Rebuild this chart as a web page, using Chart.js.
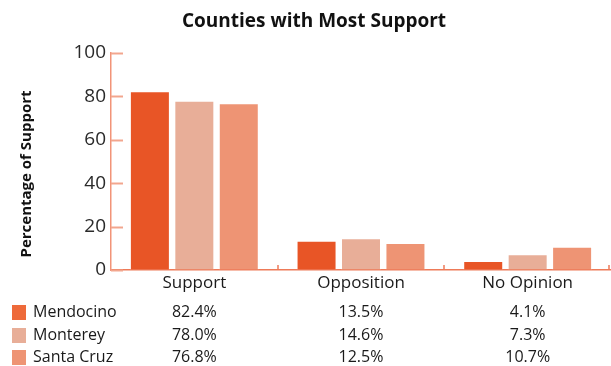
<!DOCTYPE html>
<html lang="en">
<head>
  <meta charset="UTF-8">
  <title>Counties with Most Support</title>
  <script src="https://cdn.jsdelivr.net/npm/chart.js"></script>
  <style>
    html, body { margin: 0; padding: 0; background: #fff; }
    #wrap { width: 611px; height: 366px; }
  </style>
</head>
<body>
  <div id="wrap"><canvas id="supportChart" width="611" height="366"></canvas></div>

  <script>
    // data
    const categories = ['Support', 'Opposition', 'No Opinion'];
    const counties = ['Mendocino', 'Monterey', 'Santa Cruz'];
    const mendocino = [82.4, 13.5, 4.1];
    const monterey = [78.0, 14.6, 7.3];
    const santaCruz = [76.8, 12.5, 10.7];
    const yTicks = [0, 20, 40, 60, 80, 100];

    const barColors = ['#E85526', '#E8AE98', '#EE9474'];
    const swatchColors = ['#EE6A3A', '#E8AE98', '#EE9474'];
    const FONT = '"Open Sans", sans-serif';

    // ticks drawn inside the plot + the data table under the axis
    const extras = {
      id: 'extras',
      afterDraw(chart) {
        const ctx = chart.ctx;
        const x = chart.scales.x, y = chart.scales.y;
        const area = chart.chartArea;
        ctx.save();

        // y tick marks pointing into the plot
        ctx.strokeStyle = '#F2A68E';
        ctx.lineWidth = 2;
        yTicks.forEach(v => {
          const py = Math.round(y.getPixelForValue(v)) + 0.5;
          ctx.beginPath();
          ctx.moveTo(area.left, py);
          ctx.lineTo(area.left + 12, py);
          ctx.stroke();
        });

        // small upward ticks between categories
        ctx.strokeStyle = '#EE7A58';
        ctx.lineWidth = 1.5;
        for (let i = 1; i <= categories.length; i++) {
          const px = Math.min(Math.round(x.getPixelForValue(i - 0.5)), area.right - 2);
          ctx.beginPath();
          ctx.moveTo(px, area.bottom);
          ctx.lineTo(px, area.bottom - 5);
          ctx.stroke();
        }

        // y axis title
        ctx.fillStyle = '#111';
        ctx.font = 'bold 15px ' + FONT;
        ctx.textAlign = 'center';
        ctx.textBaseline = 'middle';
        ctx.translate(27, 174);
        ctx.rotate(-Math.PI / 2);
        ctx.fillText('Percentage of Support', 0, 0);
        ctx.setTransform(1, 0, 0, 1, 0, 0);

        // table rows
        const rows = [mendocino, monterey, santaCruz];
        const rowY = [312, 335, 357];
        ctx.font = '16px ' + FONT;
        rows.forEach((vals, r) => {
          ctx.fillStyle = swatchColors[r];
          ctx.fillRect(12, rowY[r] - 7, 14, 15);
          ctx.fillStyle = '#1a1a1a';
          ctx.textAlign = 'left';
          ctx.fillText(counties[r], 33, rowY[r]);
          ctx.textAlign = 'center';
          vals.forEach((v, c) => {
            ctx.fillText(v.toFixed(1) + '%', x.getPixelForValue(c), rowY[r]);
          });
        });
        ctx.restore();
      }
    };

    new Chart(document.getElementById('supportChart'), {
      type: 'bar',
      data: {
        labels: categories,
        datasets: [
          { label: counties[0], data: mendocino, backgroundColor: barColors[0] },
          { label: counties[1], data: monterey, backgroundColor: barColors[1] },
          { label: counties[2], data: santaCruz, backgroundColor: barColors[2] }
        ].map(d => Object.assign(d, {
          borderColor: 'rgba(255,255,255,0.55)',
          borderWidth: 1,
          categoryPercentage: 0.8,
          barPercentage: 0.9
        }))
      },
      options: {
        responsive: false,
        animation: false,
        layout: { padding: { left: 17, right: 0, top: 0, bottom: 70 } },
        plugins: {
          legend: { display: false },
          tooltip: { enabled: false },
          title: {
            display: true,
            text: 'Counties with Most Support',
            color: '#111',
            font: { family: FONT, size: 19, weight: 'bold' },
            padding: { top: 10, bottom: 20.2 }
          }
        },
        scales: {
          x: {
            grid: { drawOnChartArea: false, drawTicks: false },
            border: { color: '#EE7A58', width: 1.5 },
            ticks: { color: '#1a1a1a', padding: 3, font: { family: FONT, size: 17 } },
            afterFit: s => { s.height = 26; }
          },
          y: {
            min: 0,
            max: 100,
            grid: { drawOnChartArea: false, drawTicks: false },
            border: { color: '#F29478', width: 1.5 },
            ticks: { stepSize: 20, color: '#2a2a2a', padding: 5, font: { family: FONT, size: 19 } },
            afterFit: s => { s.width = 94; }
          }
        }
      },
      plugins: [extras]
    });
  </script>
</body>
</html>
